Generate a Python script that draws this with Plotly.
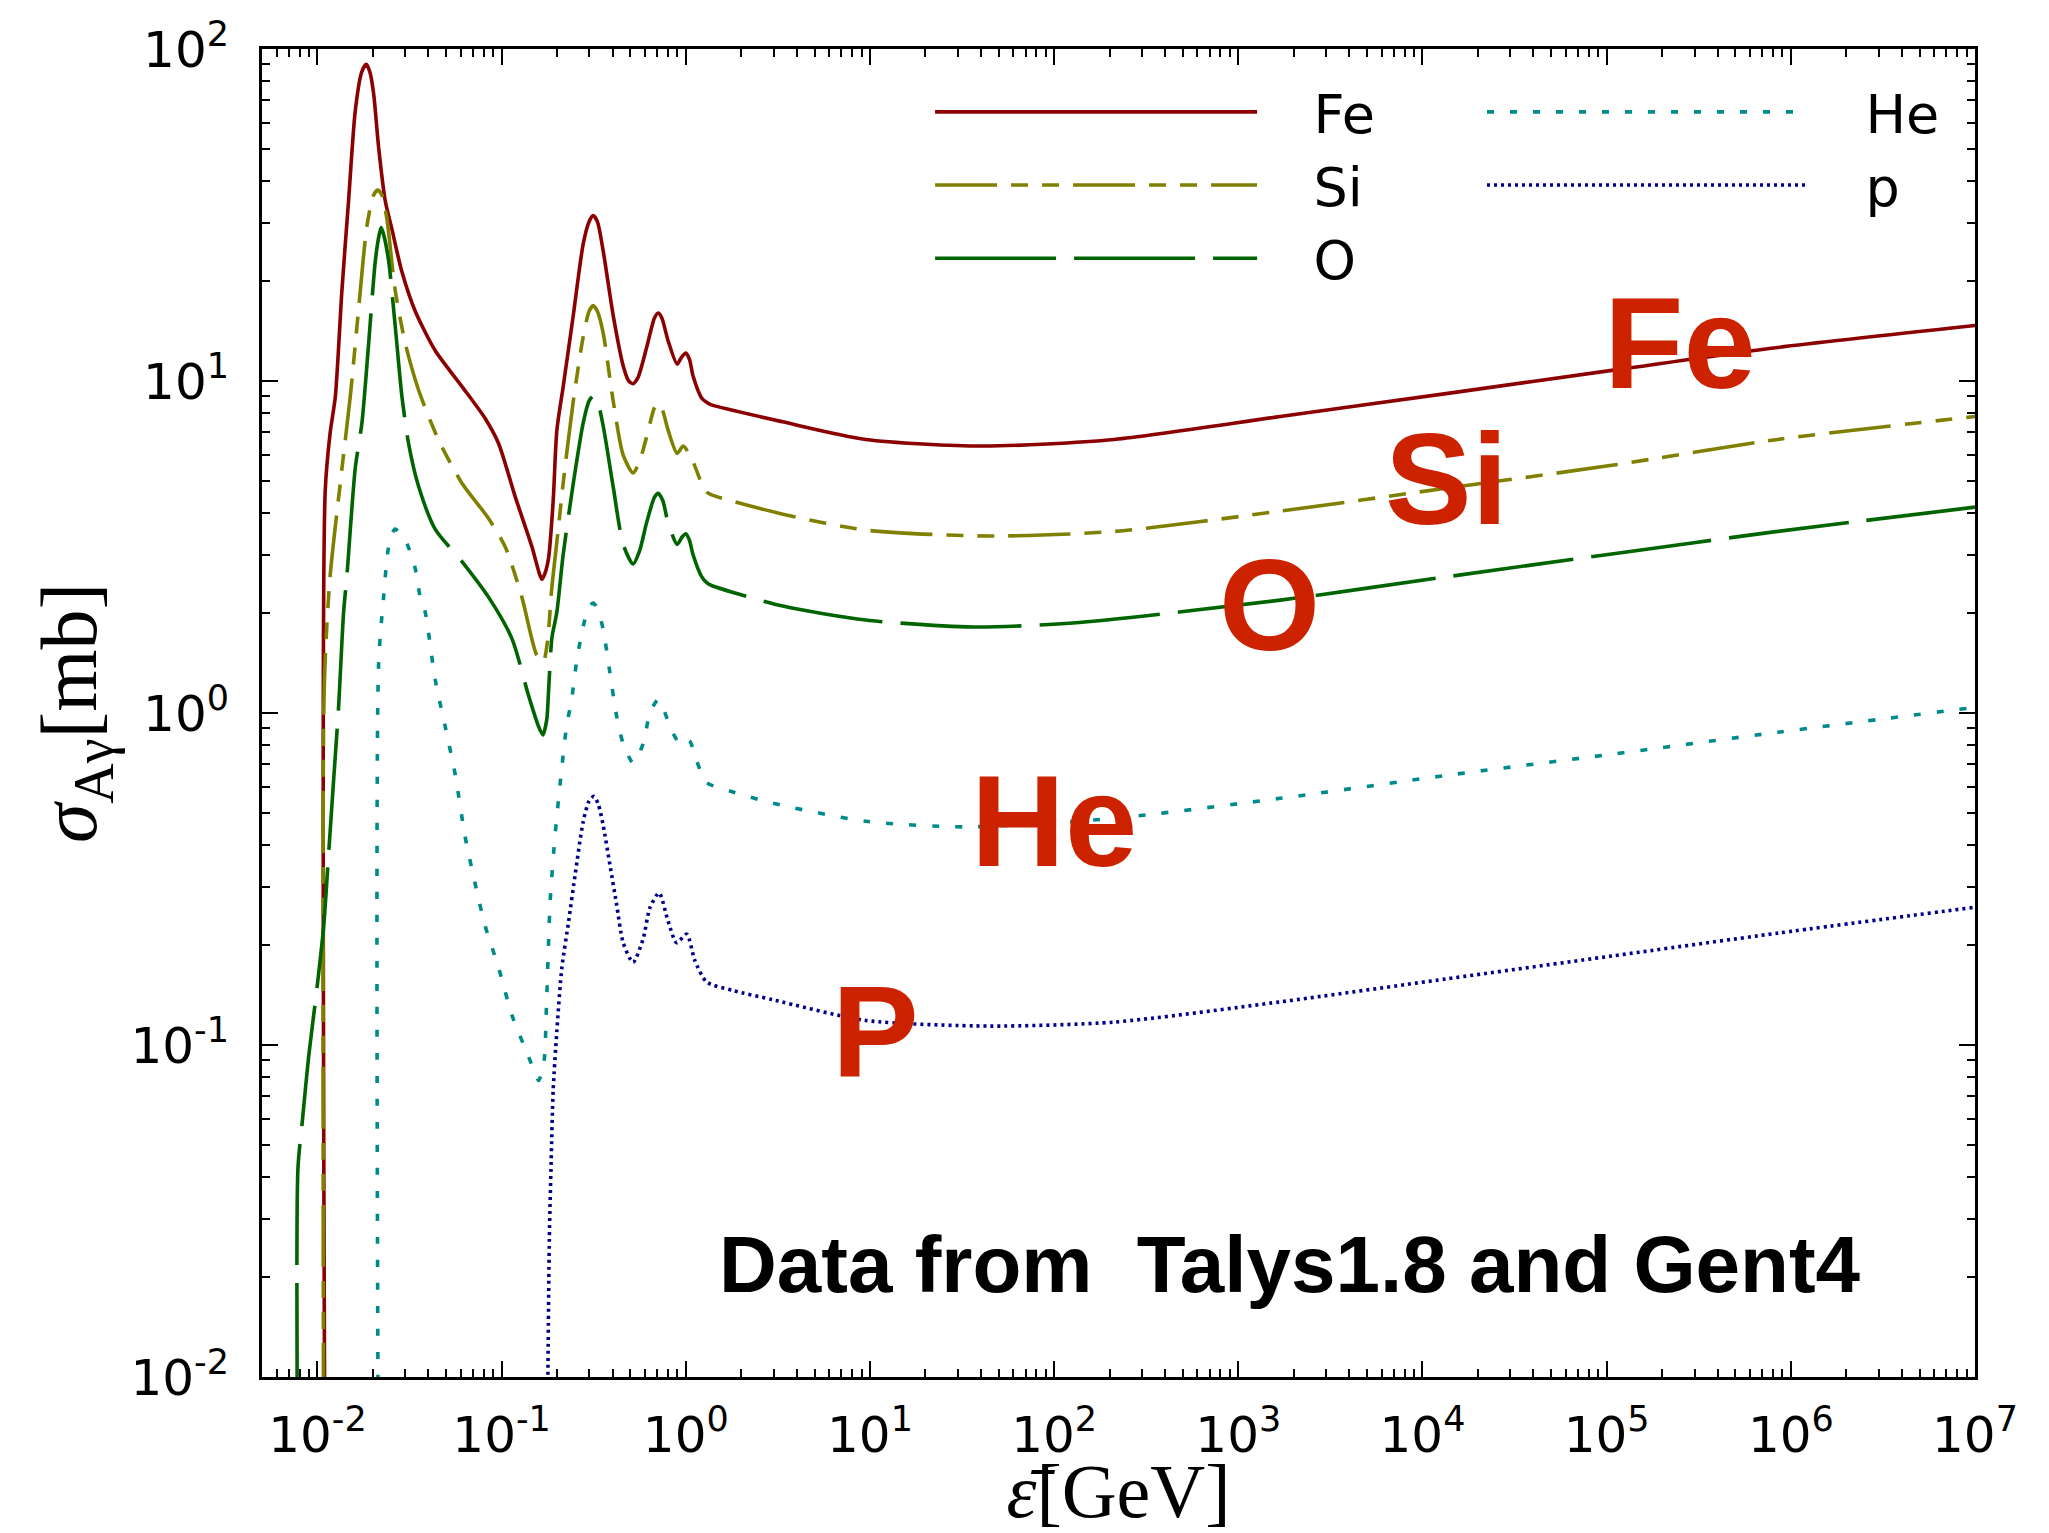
import plotly.graph_objects as go
import numpy as np

# ---- data (log10 of energy [GeV] and log10 of cross-section [mb]) ----
fe_logE = [-1.958, -1.958, -1.931, -1.903, -1.867, -1.831, -1.795, -1.760, -1.735, -1.715, -1.695, -1.668,
           -1.632, -1.596, -1.541, -1.469, -1.360, -1.216, -1.089, -1.016, -0.926, -0.835, -0.795, -0.781,
           -0.765, -0.745, -0.720, -0.700, -0.666, -0.611, -0.557, -0.525, -0.503, -0.480, -0.448, -0.394,
           -0.340, -0.310, -0.286, -0.260, -0.213, -0.170, -0.150, -0.130, -0.096, -0.047, -0.025, 0.000,
           0.020, 0.040, 0.086, 0.115, 0.140, 0.527, 0.977, 1.608, 2.327, 3.228, 4.128, 5.028, 5.929, 7.0]
fe_logS = [-2.5, 0.666, 0.844, 0.952, 1.274, 1.543, 1.812, 1.930, 1.954, 1.930, 1.866, 1.705,
           1.543, 1.458, 1.328, 1.210, 1.091, 0.984, 0.887, 0.811, 0.651, 0.500, 0.420, 0.403,
           0.420, 0.467, 0.639, 0.852, 0.982, 1.197, 1.413, 1.480, 1.498, 1.480, 1.390, 1.197,
           1.046, 1.000, 0.992, 1.010, 1.100, 1.190, 1.205, 1.190, 1.121, 1.051, 1.070, 1.084,
           1.065, 1.014, 0.949, 0.935, 0.928, 0.877, 0.824, 0.804, 0.824, 0.893, 0.962, 1.032, 1.101, 1.167]

si_logE = [-1.966, -1.966, -1.955, -1.931, -1.867, -1.822, -1.776, -1.731, -1.695, -1.672, -1.650, -1.623,
           -1.578, -1.523, -1.451, -1.342, -1.216, -1.071, -0.980, -0.890, -0.810, -0.774, -0.750, -0.729,
           -0.693, -0.666, -0.611, -0.557, -0.525, -0.503, -0.480, -0.448, -0.394, -0.340, -0.286, -0.250,
           -0.213, -0.170, -0.150, -0.125, -0.096, -0.047, -0.014, 0.040, 0.086, 0.115, 0.140, 0.527,
           0.977, 1.651, 2.327, 3.228, 4.128, 5.028, 5.929, 7.0]
si_logS = [-2.5, 0.0, 0.2, 0.414, 0.736, 0.952, 1.220, 1.468, 1.560, 1.575, 1.560, 1.489,
           1.274, 1.113, 0.973, 0.822, 0.693, 0.586, 0.500, 0.349, 0.175, 0.154, 0.220, 0.368,
           0.551, 0.691, 0.939, 1.133, 1.210, 1.227, 1.210, 1.143, 0.939, 0.777, 0.723, 0.760,
           0.831, 0.920, 0.933, 0.910, 0.852, 0.782, 0.804, 0.756, 0.691, 0.665, 0.657, 0.599,
           0.551, 0.533, 0.547, 0.608, 0.677, 0.746, 0.824, 0.893]

o_logE = [-2.106, -2.106, -2.084, -2.048, -2.003, -1.966, -1.939, -1.912, -1.885, -1.858, -1.840, -1.795,
          -1.758, -1.722, -1.686, -1.665, -1.654, -1.640, -1.613, -1.578, -1.541, -1.505, -1.451, -1.360,
          -1.216, -1.071, -0.944, -0.853, -0.800, -0.776, -0.755, -0.745, -0.727, -0.700, -0.666, -0.611,
          -0.557, -0.525, -0.503, -0.480, -0.448, -0.394, -0.340, -0.286, -0.250, -0.213, -0.170, -0.150,
          -0.125, -0.096, -0.047, -0.020, 0.000, 0.020, 0.040, 0.086, 0.115, 0.140, 0.527, 0.977,
          1.562, 2.101, 3.228, 4.128, 5.028, 5.929, 7.0]
o_logS = [-2.5, -1.373, -1.241, -1.036, -0.831, -0.642, -0.421, -0.201, 0.020, 0.303, 0.414, 0.736,
          0.876, 1.113, 1.360, 1.440, 1.462, 1.440, 1.360, 1.167, 0.952, 0.811, 0.683, 0.553,
          0.457, 0.349, 0.224, 0.051, -0.040, -0.066, -0.020, 0.067, 0.226, 0.304, 0.476, 0.691,
          0.874, 0.940, 0.955, 0.940, 0.863, 0.681, 0.508, 0.449, 0.490, 0.573, 0.650, 0.662,
          0.640, 0.573, 0.508, 0.530, 0.540, 0.520, 0.476, 0.411, 0.392, 0.384, 0.322, 0.280,
          0.259, 0.271, 0.340, 0.410, 0.479, 0.547, 0.620]

he_logE = [-1.668, -1.668, -1.641, -1.617, -1.595, -1.578, -1.550, -1.514, -1.469, -1.442, -1.415, -1.360,
           -1.306, -1.252, -1.198, -1.143, -1.089, -1.016, -0.944, -0.853, -0.815, -0.799, -0.780, -0.767,
           -0.756, -0.736, -0.710, -0.684, -0.647, -0.620, -0.593, -0.557, -0.525, -0.503, -0.480, -0.448,
           -0.412, -0.376, -0.340, -0.286, -0.231, -0.195, -0.150, -0.120, -0.077, -0.032, 0.000, 0.022,
           0.059, 0.113, 0.239, 0.475, 0.977, 1.517, 2.327, 3.228, 4.128, 5.028, 5.929, 7.0]
he_logS = [-2.5, 0.146, 0.349, 0.489, 0.540, 0.554, 0.540, 0.510, 0.435, 0.349, 0.304, 0.099,
           -0.042, -0.185, -0.373, -0.516, -0.642, -0.768, -0.910, -1.036, -1.090, -1.107, -1.080, -1.036,
           -0.875, -0.563, -0.370, -0.222, -0.039, 0.040, 0.154, 0.261, 0.320, 0.331, 0.315, 0.250,
           0.121, -0.008, -0.092, -0.150, -0.092, 0.000, 0.040, 0.010, -0.052, -0.092, -0.080, -0.085,
           -0.144, -0.209, -0.235, -0.272, -0.326, -0.343, -0.317, -0.257, -0.188, -0.124, -0.058, 0.017]

p_logE = [-0.756, -0.741, -0.731, -0.720, -0.700, -0.673, -0.636, -0.600, -0.557, -0.525, -0.499, -0.475,
          -0.448, -0.412, -0.376, -0.340, -0.286, -0.231, -0.195, -0.145, -0.096, -0.050, 0.005, 0.049,
          0.113, 0.257, 0.475, 0.977, 1.651, 2.327, 3.228, 4.128, 5.028, 5.929, 7.0]
p_logS = [-2.5, -1.587, -1.351, -1.136, -0.957, -0.768, -0.627, -0.484, -0.327, -0.265, -0.251, -0.275,
          -0.340, -0.457, -0.575, -0.692, -0.751, -0.679, -0.587, -0.542, -0.627, -0.692, -0.666, -0.745,
          -0.810, -0.836, -0.864, -0.926, -0.943, -0.931, -0.870, -0.801, -0.732, -0.663, -0.585]

series_names = ["Fe", "Si", "O", "He", "p"]
series_colors = ["#8b0000", "#808000", "#006400", "#008b8b", "#00008b"]
series_dash = ["solid", "62px,14px,17px,14px,17px,14px", "121px,18px", "7px,16px", "3px,4px"]
series_legend = ["legend", "legend", "legend", "legend2", "legend2"]
series_data = [(fe_logE, fe_logS), (si_logE, si_logS), (o_logE, o_logS), (he_logE, he_logS), (p_logE, p_logS)]

x_decades = [-3, -2, -1, 0, 1, 2, 3, 4, 5, 6, 7]
y_decades = [-2, -1, 0, 1, 2]
x_ticktext = ["10<sup>-2</sup>", "10<sup>-1</sup>", "10<sup>0</sup>", "10<sup>1</sup>", "10<sup>2</sup>",
              "10<sup>3</sup>", "10<sup>4</sup>", "10<sup>5</sup>", "10<sup>6</sup>", "10<sup>7</sup>"]
y_ticktext = ["10<sup>-2</sup>", "10<sup>-1</sup>", "10<sup>0</sup>", "10<sup>1</sup>", "10<sup>2</sup>"]
minor_digits = [2, 3, 4, 5, 6, 7, 8, 9]

big_labels = ["Fe", "Si", "O", "He", "P"]
note_text = "Data from\u00a0\u00a0Talys1.8 and Gent4"

x_major = [10.0 ** d for d in x_decades[1:]]
y_major = [10.0 ** d for d in y_decades]
x_minor = [m * 10.0 ** d for d in x_decades for m in minor_digits]
y_minor = [m * 10.0 ** d for d in y_decades[:-1] for m in minor_digits]

fig = go.Figure()
for name, col, dash, leg, (lx, ls) in zip(series_names, series_colors, series_dash, series_legend, series_data):
    fig.add_trace(go.Scatter(
        x=10 ** np.array(lx), y=10 ** np.array(ls), mode="lines",
        name="\u00a0\u00a0\u00a0" + name, legend=leg,
        line=dict(color=col, width=3.6, dash=dash, shape="spline", smoothing=0.7),
    ))

# positions of the big red labels (paper coords)
big_pos = [(0.8278, 0.7786), (0.6912, 0.6762), (0.5884, 0.5813), (0.4623, 0.4187), (0.3584, 0.2598)]
for t, (xp, yp) in zip(big_labels, big_pos):
    fig.add_annotation(text=t, x=xp, y=yp, xref="paper", yref="paper", showarrow=False,
                       xanchor="center", yanchor="middle",
                       font=dict(family="Liberation Sans", size=130, color="#cc2200", weight="bold"))
fig.add_annotation(text=note_text, x=0.6001, y=0.085, xref="paper", yref="paper", showarrow=False,
                   xanchor="center", yanchor="middle",
                   font=dict(family="Liberation Sans", size=80, color="black", weight="bold"))

axis_common = dict(
    type="log", showgrid=False, zeroline=False, showline=True, linecolor="black", linewidth=3,
    mirror="allticks", ticks="inside", ticklen=16, tickwidth=2, tickcolor="black",
    tickmode="array", automargin=False,
    tickfont=dict(family="DejaVu Sans", size=50, color="black"),
)

fig.update_xaxes(**axis_common, range=[np.log10(0.005), 7], ticklabelstandoff=12,
                 tickvals=x_major, ticktext=x_ticktext,
                 minor=dict(ticks="inside", ticklen=8, tickwidth=2, tickcolor="black", showgrid=False,
                            tickmode="array", tickvals=x_minor),
                 title=dict(text="<i>ε̄</i>[GeV]", font=dict(family="Liberation Serif", size=76, color="black"),
                            standoff=14))
fig.update_yaxes(**axis_common, range=[-2, 2], ticklabelstandoff=20,
                 tickvals=y_major, ticktext=y_ticktext,
                 minor=dict(ticks="inside", ticklen=8, tickwidth=2, tickcolor="black", showgrid=False,
                            tickmode="array", tickvals=y_minor),
                 title=dict(text="<i>σ</i><sub>Aγ</sub>[mb]",
                            font=dict(family="Liberation Serif", size=80, color="black"), standoff=8))

legend_common = dict(orientation="v", xanchor="left", yanchor="top", itemwidth=322,
                     bgcolor="rgba(0,0,0,0)", borderwidth=0, traceorder="normal",
                     font=dict(family="DejaVu Sans", size=54, color="black"))
fig.update_layout(
    width=2049, height=1533,
    margin=dict(l=262, r=74, t=49, b=156),
    paper_bgcolor="white", plot_bgcolor="white",
    showlegend=True,
    legend=dict(**legend_common, x=0.39, y=0.984),
    legend2=dict(**legend_common, x=0.7122, y=0.984),
)

fig.write_html("out.html")
